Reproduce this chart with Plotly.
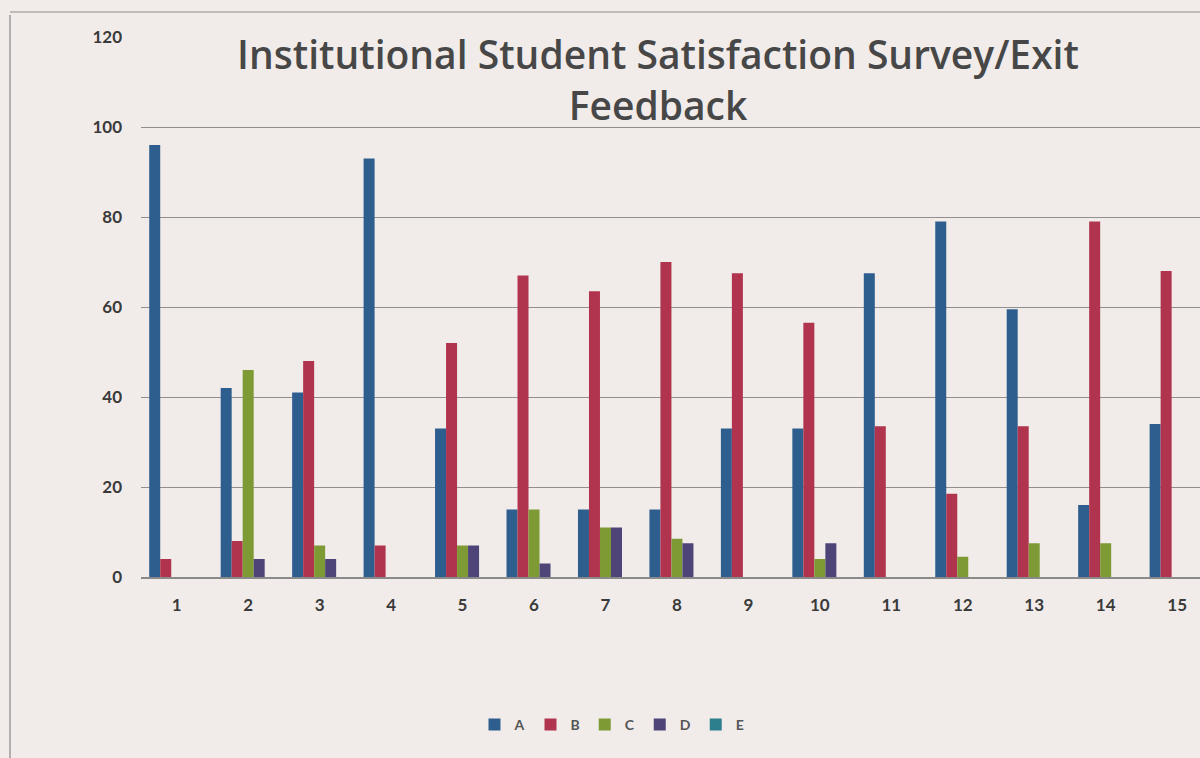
import plotly.graph_objects as go

categories = [str(i) for i in range(1, 16)]
series_names = ["A", "B", "C", "D", "E"]
A = [96, 42, 41, 93, 33, 15, 15, 15, 33, 33, 67.5, 79, 59.5, 16, 34]
B = [4, 8, 48, 7, 52, 67, 63.5, 70, 67.5, 56.5, 33.5, 18.5, 33.5, 79, 68]
C = [0, 46, 7, 0, 7, 15, 11, 8.5, 0, 4, 0, 4.5, 7.5, 7.5, 0]
D = [0, 4, 4, 0, 7, 3, 11, 7.5, 0, 7.5, 0, 0, 0, 0, 0]
E = [0] * 15
values = [A, B, C, D, E]
colors = ["#2e5e8e", "#b0344e", "#7e9a35", "#4e4478", "#2e7f8e"]

fig = go.Figure()
for name, vals, col in zip(series_names, values, colors):
    fig.add_trace(go.Bar(x=categories, y=vals, name=name, marker_color=col,
                         marker_line_width=0))

L, T, R = 141, 37, 0
W, H = 1200, 758
plot_h = 540
B_m = H - T - plot_h
plot_w = W - L - R

def px_x(p):
    return (p - L) / plot_w

def px_y(p):
    return (T + plot_h - p) / plot_h

fig.update_layout(
    width=W, height=H,
    margin=dict(l=L, r=R, t=T, b=B_m),
    paper_bgcolor="#f1ecea", plot_bgcolor="#f1ecea",
    barmode="group", bargap=0.23, bargroupgap=0.0,
    font=dict(family="Lato", color="#3a3a3a"),
    title=dict(text="Institutional Student Satisfaction Survey/Exit<br>Feedback",
               x=658 / W, xanchor="center", y=1 - 69 / H, yanchor="middle",
               font=dict(family="Open Sans", size=39, color="#474747", weight=600)),
    showlegend=True,
    legend=dict(orientation="h", x=px_x(612), xanchor="center", y=px_y(725), yanchor="middle",
                font=dict(size=14, color="#555", weight="bold"), bgcolor="rgba(0,0,0,0)",
                itemwidth=30),
    xaxis=dict(type="category", range=[-0.5, 14.32], showgrid=False,
               showline=True, linecolor="#8a8a8a", linewidth=1.5,
               tickfont=dict(size=17, color="#3a3a3a", weight="bold"),
               ticks="", ticklabelstandoff=12),
    yaxis=dict(range=[0, 120], tickvals=[0, 20, 40, 60, 80, 100, 120],
               showgrid=True, gridcolor="#8f8f8f", gridwidth=1.2,
               zeroline=False, showline=False,
               tickfont=dict(size=17, color="#3a3a3a", weight="bold"),
               ticks="", ticklabelstandoff=18),
    shapes=[
        dict(type="line", xref="paper", yref="paper",
             x0=px_x(10), x1=px_x(10), y0=px_y(15), y1=px_y(H),
             line=dict(color="#9a9a9a", width=1.5)),
        dict(type="line", xref="paper", yref="paper",
             x0=px_x(10), x1=px_x(W), y0=px_y(12), y1=px_y(12),
             line=dict(color="#b0aaa8", width=1.5)),
    ],
)

fig.write_html("out.html", config={"displayModeBar": False},
               post_script="document.body.style.margin='0';document.body.style.background='#f1ecea';")
